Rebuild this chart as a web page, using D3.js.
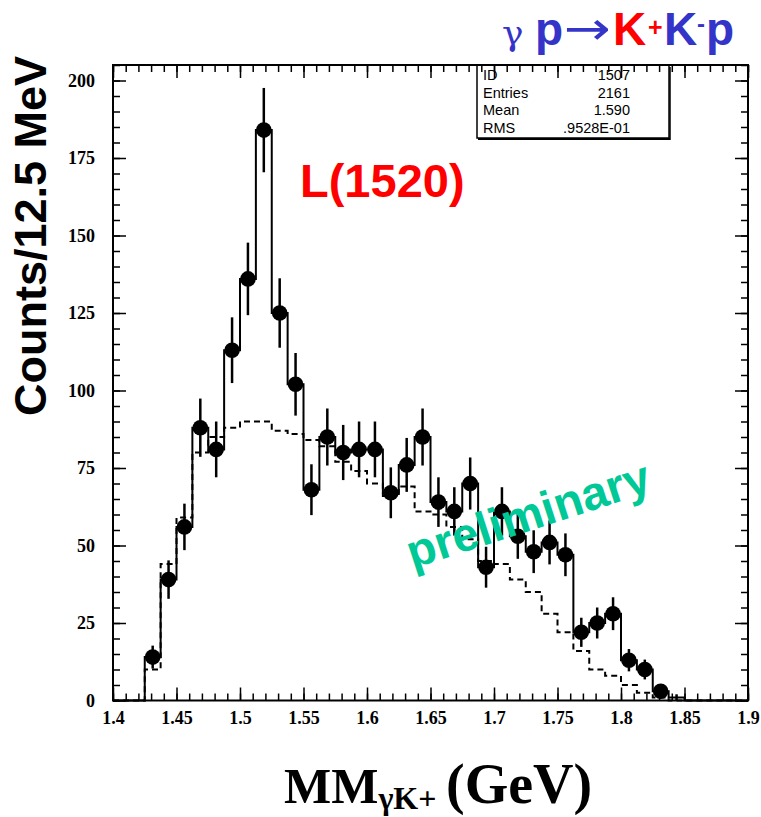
<!DOCTYPE html>
<html>
<head>
<meta charset="utf-8">
<script src="https://cdn.jsdelivr.net/npm/d3@7"></script>
<style>
  html, body { margin: 0; padding: 0; background: #ffffff; }
  svg { display: block; }
</style>
</head>
<body>
<svg id="chart" width="761" height="817"></svg>
<script>
// ---------------- data ----------------
const xMin = 1.4;
const binWidth = 0.0125;             // 12.5 MeV bins
// data counts per bin, bins start at 1.4 GeV
const counts = [0, 0, 14, 39, 56, 88, 81, 113, 136, 184,
                125, 102, 68, 85, 80, 81, 81, 67, 76, 85,
                64, 61, 70, 43, 61, 53, 48, 51, 47, 22,
                25, 28, 13, 10, 3, 1, 0, 0, 0, 0];
// statistical errors per bin
const errors = [0, 0, 3.7, 6.2, 7.5, 9.4, 9.0, 10.6, 11.7, 13.6,
                11.2, 10.1, 8.2, 9.2, 8.9, 9.0, 9.0, 8.2, 8.7, 9.2,
                8.0, 7.8, 8.4, 6.6, 7.8, 7.3, 6.9, 7.1, 6.9, 4.7,
                5.0, 5.3, 3.6, 3.2, 1.7, 1.0, 0, 0, 0, 0];
// dashed (phase-space / background) histogram
const background = [0, 0, 10, 44, 59, 80, 85, 88, 90, 90,
                    87, 86, 84, 82, 77, 74, 70, 66, 69, 61,
                    60, 56, 52, 45, 44, 39, 35, 28, 22, 16,
                    10, 8, 5, 2.5, 1, 0, 0, 0, 0, 0];
const xTicks = [1.4, 1.45, 1.5, 1.55, 1.6, 1.65, 1.7, 1.75, 1.8, 1.85, 1.9];
const xTickLabels = ["1.4", "1.45", "1.5", "1.55", "1.6", "1.65", "1.7", "1.75", "1.8", "1.85", "1.9"];
const yTicks = [0, 25, 50, 75, 100, 125, 150, 175, 200];
const yTickLabels = ["0", "25", "50", "75", "100", "125", "150", "175", "200"];
const statsRows = ["ID", "Entries", "Mean", "RMS"];
const statsValues = ["1507", "2161", "1.590", ".9528E-01"];

// ---------------- layout ----------------
const L = 113, R = 748, T = 65, B = 700.5;
const svg = d3.select("#chart");
const x = d3.scaleLinear().domain([1.4, 1.9]).range([L, R]);
const y = d3.scaleLinear().domain([0, 205]).range([B, T]);

const serif = "'Liberation Serif', 'Times New Roman', serif";
const sans = "'Liberation Sans', Arial, Helvetica, sans-serif";

// ---------------- histograms ----------------
function stepPoints(vals) {
  const pts = vals.map((v, i) => [xMin + i * binWidth, v]);
  pts.push([xMin + vals.length * binWidth, vals[vals.length - 1]]);
  return pts;
}
const stepLine = d3.line().x(d => x(d[0])).y(d => y(d[1])).curve(d3.curveStepAfter);

svg.append("path")
  .attr("d", stepLine(stepPoints(background)))
  .attr("fill", "none").attr("stroke", "#000").attr("stroke-width", 2)
  .attr("stroke-dasharray", "6,4");

svg.append("path")
  .attr("d", stepLine(stepPoints(counts)))
  .attr("fill", "none").attr("stroke", "#000").attr("stroke-width", 2);

// error bars and markers
const pts = counts.map((c, i) => ({c, e: errors[i], xc: xMin + (i + 0.5) * binWidth})).filter(d => d.c > 0);
svg.append("g").selectAll("line").data(pts).join("line")
  .attr("x1", d => x(d.xc)).attr("x2", d => x(d.xc))
  .attr("y1", d => y(d.c - d.e)).attr("y2", d => y(d.c + d.e))
  .attr("stroke", "#000").attr("stroke-width", 2.5);
svg.append("g").selectAll("circle").data(pts.filter(d => d.c > 1)).join("circle")
  .attr("cx", d => x(d.xc)).attr("cy", d => y(d.c)).attr("r", 7.8)
  .attr("fill", "#000");

// ---------------- axes ----------------
const minorX = d3.range(0, 51).map(i => 1.4 + i * 0.01);
const minorY = d3.range(0, 42).map(i => i * 5);

function styleAxis(g) {
  g.select(".domain").remove();
  g.selectAll(".tick line").attr("stroke", "#000").attr("stroke-width", 1.5);
}
// bottom
svg.append("g").attr("transform", `translate(0,${B})`)
  .call(d3.axisBottom(x).tickValues(minorX).tickSize(-7).tickFormat("")).call(styleAxis);
svg.append("g").attr("transform", `translate(0,${B})`)
  .call(d3.axisBottom(x).tickValues(xTicks).tickSize(-13).tickPadding(11)
        .tickFormat((d, i) => xTickLabels[i]))
  .call(styleAxis)
  .call(g => g.selectAll("text").attr("font-family", serif).attr("font-weight", "bold")
        .attr("font-size", 18).attr("fill", "#000"));
// top
svg.append("g").attr("transform", `translate(0,${T})`)
  .call(d3.axisTop(x).tickValues(minorX).tickSize(-7).tickFormat("")).call(styleAxis);
svg.append("g").attr("transform", `translate(0,${T})`)
  .call(d3.axisTop(x).tickValues(xTicks).tickSize(-13).tickFormat("")).call(styleAxis);
// left
svg.append("g").attr("transform", `translate(${L},0)`)
  .call(d3.axisLeft(y).tickValues(minorY).tickSize(-7).tickFormat("")).call(styleAxis);
svg.append("g").attr("transform", `translate(${L},0)`)
  .call(d3.axisLeft(y).tickValues(yTicks).tickSize(-13).tickPadding(18)
        .tickFormat((d, i) => yTickLabels[i]))
  .call(styleAxis)
  .call(g => g.selectAll("text").attr("font-family", serif).attr("font-weight", "bold")
        .attr("font-size", 18).attr("fill", "#000"));
// right
svg.append("g").attr("transform", `translate(${R},0)`)
  .call(d3.axisRight(y).tickValues(minorY).tickSize(-7).tickFormat("")).call(styleAxis);
svg.append("g").attr("transform", `translate(${R},0)`)
  .call(d3.axisRight(y).tickValues(yTicks).tickSize(-13).tickFormat("")).call(styleAxis);

// frame
svg.append("rect").attr("x", L).attr("y", T).attr("width", R - L).attr("height", B - T)
  .attr("fill", "none").attr("stroke", "#000").attr("stroke-width", 2);

// ---------------- stats box ----------------
const sb = svg.append("g");
sb.append("rect").attr("x", 477).attr("y", T).attr("width", 192).attr("height", 73)
  .attr("fill", "none").attr("stroke", "#000").attr("stroke-width", 1.5);
sb.append("line").attr("x1", 478).attr("x2", 670).attr("y1", 139).attr("y2", 139)
  .attr("stroke", "#000").attr("stroke-width", 2);
sb.append("line").attr("x1", 670).attr("x2", 670).attr("y1", 67).attr("y2", 140)
  .attr("stroke", "#000").attr("stroke-width", 1.5);
statsRows.forEach((r, i) => {
  sb.append("text").attr("x", 483).attr("y", 80 + i * 17.6).text(r)
    .attr("font-family", sans).attr("font-size", 14.5).attr("fill", "#000");
  sb.append("text").attr("x", 630).attr("y", 80 + i * 17.6).text(statsValues[i])
    .attr("text-anchor", "end")
    .attr("font-family", sans).attr("font-size", 14.5).attr("fill", "#000");
});

// ---------------- texts ----------------
// y axis title
svg.append("text")
  .attr("transform", "translate(46,236) rotate(-90)")
  .attr("text-anchor", "middle")
  .attr("font-family", sans).attr("font-weight", "bold").attr("font-size", 45)
  .attr("fill", "#000").text("Counts/12.5 MeV");

// x axis title
const xt = svg.append("text").attr("x", 284).attr("y", 803)
  .attr("font-family", serif).attr("font-weight", "bold").attr("fill", "#000");
xt.append("tspan").attr("font-size", 50).text("MM");
xt.append("tspan").attr("font-size", 32).attr("dy", 6).text("γK+");
xt.append("tspan").attr("font-size", 56).attr("dy", -6).attr("x", 446).text("(GeV)");

// L(1520)
svg.append("text").attr("x", 300).attr("y", 197)
  .attr("font-family", sans).attr("font-weight", "bold").attr("font-size", 47)
  .attr("fill", "#ff0000").text("L(1520)");

// preliminary
svg.append("text")
  .attr("transform", "translate(528,514) rotate(-18)")
  .attr("text-anchor", "middle").attr("dominant-baseline", "central")
  .attr("font-family", sans).attr("font-weight", "bold").attr("font-size", 47)
  .attr("fill", "#00c896").text("preliminary");

// reaction label
const blue = "#3434c8", red = "#ff0000";
const rg = svg.append("g").attr("font-family", sans).attr("font-weight", "bold");
rg.append("text").attr("x", 502).attr("y", 45).attr("font-size", 36)
  .attr("font-weight", "normal").attr("font-family", "'DejaVu Serif', serif")
  .attr("fill", blue).text("γ");
rg.append("text").attr("x", 535).attr("y", 45).attr("font-size", 46).attr("fill", blue).text("p");
rg.append("text").attr("transform", "translate(564,44) scale(1.22,1)")
  .attr("font-size", 46).attr("font-weight", "normal")
  .attr("font-family", "'DejaVu Sans', sans-serif").attr("fill", blue).text("→");
rg.append("text").attr("x", 613).attr("y", 45).attr("font-size", 46).attr("fill", red).text("K");
rg.append("text").attr("x", 648).attr("y", 36).attr("font-size", 25).attr("fill", red).text("+");
rg.append("text").attr("x", 664).attr("y", 45).attr("font-size", 46).attr("fill", blue).text("K");
rg.append("text").attr("x", 697).attr("y", 32).attr("font-size", 24).attr("fill", blue).text("-");
rg.append("text").attr("x", 706).attr("y", 45).attr("font-size", 46).attr("fill", blue).text("p");
</script>
</body>
</html>
